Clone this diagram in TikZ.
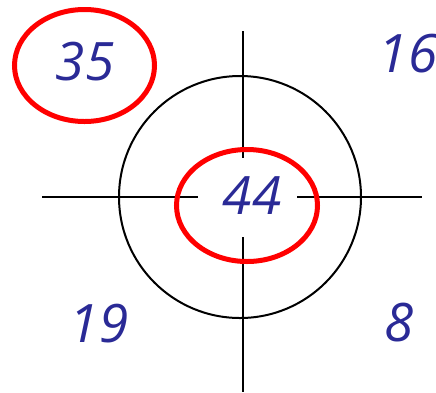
\documentclass[tikz,border=0pt]{standalone}
\usepackage{fontspec}
\setmainfont{Open Sans}
\usetikzlibrary{shapes.geometric}
\definecolor{numblue}{RGB}{42,42,150}
\definecolor{ringred}{RGB}{255,0,0}
\begin{document}
\begin{tikzpicture}[x=1pt,y=-1pt,
  num/.style={text=numblue,font=\fontsize{53}{53}\selectfont\itshape,inner sep=0pt},
  axis/.style={draw=black,line width=2.3pt},
  ring/.style={draw=ringred,line width=5pt}]
\useasboundingbox (0,0) rectangle (436,392);
% target circle
\draw[black,line width=2pt] (240,197) circle[radius=121];
% axes with gaps around the centre
\coordinate (L1) at (42,197);
\coordinate (L2) at (198,197);
\coordinate (R1) at (297,197);
\coordinate (R2) at (422,197);
\coordinate (T1) at (243.3,31);
\coordinate (T2) at (243.3,158);
\coordinate (B1) at (243.3,237);
\coordinate (B2) at (243.3,392);
\draw[axis] (L1) -- (L2);
\draw[axis] (R1) -- (R2);
\draw[axis] (T1) -- (T2);
\draw[axis] (B1) -- (B2);
% red rings
\draw[ring] (84.5,65.5) ellipse[x radius=70, y radius=56];
\draw[ring] (247,205.5) ellipse[x radius=70.5, y radius=56];
% numbers
\node[num] (n35) at (85,62) {35};
\node[num] (n44) at (252,196) {44};
\node[num] (n16) at (408,54) {16};
\node[num] (n19) at (99,324) {19};
\node[num] (n8) at (399,323) {8};
\end{tikzpicture}
\end{document}
